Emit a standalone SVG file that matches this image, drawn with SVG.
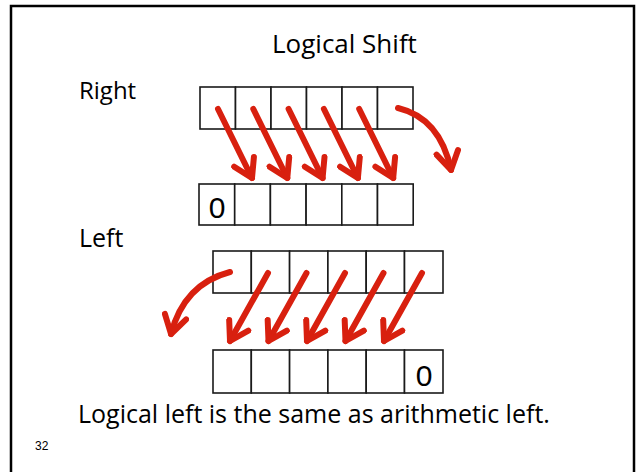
<svg xmlns="http://www.w3.org/2000/svg" width="639" height="472" viewBox="0 0 639 472">
<style>
.cell{fill:#fff;stroke:#1a1a1a;stroke-width:1.6}
.t{font-family:"Open Sans","DejaVu Sans",sans-serif;fill:#000}
.z{font-family:"Liberation Sans",Arial,sans-serif;font-size:30px;fill:#000;text-anchor:middle}
.arr{fill:none;stroke:#d8200f;stroke-width:6;stroke-linecap:round;marker-end:url(#head)}
</style>
<defs>
<marker id="head" viewBox="0 0 28 28" refX="23" refY="14" markerWidth="28" markerHeight="28" markerUnits="userSpaceOnUse" orient="auto">
<path d="M5,3 L23,14 L5,25" fill="none" stroke="#d8200f" stroke-width="6" stroke-linecap="round" stroke-linejoin="round"/>
</marker>
</defs>
<rect x="0" y="0" width="639" height="472" fill="#fff"/>
<path d="M11,480 V6 H634 V480" fill="none" stroke="#000" stroke-width="2.5"/>
<text class="t" x="272" y="53" font-size="26">Logical Shift</text>
<text class="t" x="79" y="99" font-size="24">Right</text>
<text class="t" x="79" y="247" font-size="25">Left</text>
<text class="t" x="78" y="423" font-size="25">Logical left is the same as arithmetic left.</text>
<text x="35" y="450" font-family="Liberation Sans,Arial,sans-serif" font-size="12">32</text>
<g id="right-src">
<rect class="cell" x="200" y="87" width="35.5" height="42"/>
<rect class="cell" x="235.5" y="87" width="35.5" height="42"/>
<rect class="cell" x="271" y="87" width="35.5" height="42"/>
<rect class="cell" x="306.5" y="87" width="35.5" height="42"/>
<rect class="cell" x="342" y="87" width="35.5" height="42"/>
<rect class="cell" x="377.5" y="87" width="35.5" height="42"/>
</g>
<g id="right-dst">
<rect class="cell" x="199" y="184" width="35.7" height="41"/>
<rect class="cell" x="234.7" y="184" width="35.7" height="41"/>
<rect class="cell" x="270.4" y="184" width="35.7" height="41"/>
<rect class="cell" x="306.1" y="184" width="35.7" height="41"/>
<rect class="cell" x="341.8" y="184" width="35.7" height="41"/>
<rect class="cell" x="377.5" y="184" width="35.7" height="41"/>
<text class="z" x="217" y="218">0</text>
</g>
<g id="left-src">
<rect class="cell" x="213" y="251" width="38.3" height="42"/>
<rect class="cell" x="251.3" y="251" width="38.3" height="42"/>
<rect class="cell" x="289.6" y="251" width="38.3" height="42"/>
<rect class="cell" x="327.9" y="251" width="38.3" height="42"/>
<rect class="cell" x="366.2" y="251" width="38.3" height="42"/>
<rect class="cell" x="404.5" y="251" width="38.5" height="42"/>
</g>
<g id="left-dst">
<rect class="cell" x="213" y="350" width="38.3" height="43"/>
<rect class="cell" x="251.3" y="350" width="38.3" height="43"/>
<rect class="cell" x="289.6" y="350" width="38.3" height="43"/>
<rect class="cell" x="327.9" y="350" width="38.3" height="43"/>
<rect class="cell" x="366.2" y="350" width="38.3" height="43"/>
<rect class="cell" x="404.5" y="350" width="38.5" height="43"/>
<text class="z" x="424" y="386">0</text>
</g>
<g id="connectors">
<path class="arr" d="M218,109 L252,178"/>
<path class="arr" d="M253.3,109 L287.3,178"/>
<path class="arr" d="M288.6,109 L322.6,178"/>
<path class="arr" d="M323.9,109 L357.9,178"/>
<path class="arr" d="M359.2,109 L393.2,178"/>
<path class="arr" d="M398,108 Q440,118 451,170"/>
<path class="arr" d="M268,273 L230,341"/>
<path class="arr" d="M306.5,273 L268.5,341"/>
<path class="arr" d="M345,273 L307,341"/>
<path class="arr" d="M383.5,273 L345.5,341"/>
<path class="arr" d="M422,273 L384,341"/>
<path class="arr" d="M230,272 Q184,284 171,334"/>
</g>
</svg>
